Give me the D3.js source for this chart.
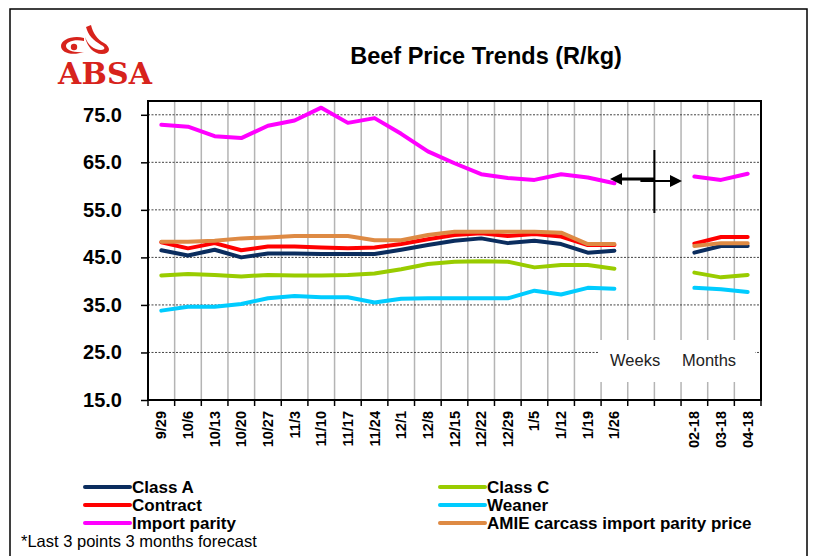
<!DOCTYPE html>
<html>
<head>
<meta charset="utf-8">
<script src="https://cdn.jsdelivr.net/npm/d3@7/dist/d3.min.js"></script>
<style>
  body { margin: 0; background: #fff; }
  svg { display: block; font-family: "Liberation Sans", Arial, sans-serif; }
</style>
</head>
<body>
<svg id="chart" width="814" height="556"></svg>
<script>
(() => {

    // categories (two blank slots split weeks from months)
    const categories = ['9/29', '10/6', '10/13', '10/20', '10/27', '11/3', '11/10', '11/17', '11/24',
        '12/1', '12/8', '12/15', '12/22', '12/29', '1/5', '1/12', '1/19', '1/26', '', ' ',
        '02-18', '03-18', '04-18'];

    // series values (R/kg), null where there is no point
    const class_a = [46.5, 45.4, 46.6, 45.0, 45.8, 45.8, 45.7, 45.7, 45.7, 46.6, 47.6, 48.5, 49.0, 48.0, 48.5, 47.8, 46.0, 46.4, null, null, 46.0, 47.4, 47.4];
    const class_c = [41.2, 41.5, 41.3, 41.0, 41.3, 41.2, 41.2, 41.3, 41.6, 42.5, 43.6, 44.1, 44.2, 44.1, 42.9, 43.4, 43.4, 42.6, null, null, 41.8, 40.8, 41.3];
    const contract = [48.2, 46.9, 48.0, 46.5, 47.3, 47.3, 47.1, 46.9, 47.1, 47.8, 48.8, 49.7, 50.1, 49.5, 49.9, 49.4, 47.6, 47.6, null, null, 47.9, 49.3, 49.3];
    const weaner = [33.8, 34.6, 34.6, 35.2, 36.4, 36.9, 36.6, 36.6, 35.5, 36.3, 36.4, 36.4, 36.4, 36.4, 38.0, 37.2, 38.6, 38.4, null, null, 38.6, 38.3, 37.7];
    const import_parity = [72.9, 72.5, 70.5, 70.1, 72.7, 73.8, 76.5, 73.3, 74.3, 71.0, 67.3, 64.8, 62.5, 61.7, 61.3, 62.5, 61.8, 60.6, null, null, 62.0, 61.3, 62.6];
    const amie = [48.3, 48.3, 48.5, 49.0, 49.2, 49.5, 49.5, 49.5, 48.6, 48.6, 49.7, 50.4, 50.4, 50.4, 50.4, 50.2, 47.8, 47.8, null, null, 47.4, 48.0, 48.0];

    const y_ticks = [15, 25, 35, 45, 55, 65, 75];

    const series = [
        { name: 'Class A', values: class_a, color: '#0B2D5E' },
        { name: 'Class C', values: class_c, color: '#99CC00' },
        { name: 'Contract', values: contract, color: '#FF0000' },
        { name: 'Weaner', values: weaner, color: '#00CCFF' },
        { name: 'Import parity', values: import_parity, color: '#FF00FF' },
        { name: 'AMIE carcass import parity price', values: amie, color: '#DE8A44' }
    ];

    // plot area
    const left = 148, right = 761, top = 101, bottom = 400;

    let svg = d3.select('#chart');

    // outer frame
    svg.append('rect')
        .attr('x', 10).attr('y', 9)
        .attr('width', 797).attr('height', 600)
        .attr('fill', 'none')
        .attr('stroke', '#000')
        .attr('stroke-width', 1.5);

    let x_scale = d3.scaleBand()
        .domain(categories)
        .range([left, right])
        .padding(0);

    let y_scale = d3.scaleLinear()
        .domain([15, 77.9])
        .range([bottom, top]);

    // vertical grid at category boundaries
    svg.append('g')
        .selectAll('line')
        .data(categories.slice(1))
        .enter()
        .append('line')
        .attr('x1', (d) => x_scale(d))
        .attr('x2', (d) => x_scale(d))
        .attr('y1', top)
        .attr('y2', bottom)
        .attr('stroke', '#B4B4B4')
        .attr('stroke-width', 1.5);

    // horizontal dotted grid
    svg.append('g')
        .selectAll('line')
        .data(y_ticks.slice(1))
        .enter()
        .append('line')
        .attr('x1', left)
        .attr('x2', right)
        .attr('y1', (d) => y_scale(d))
        .attr('y2', (d) => y_scale(d))
        .attr('stroke', '#444')
        .attr('stroke-width', 1)
        .attr('stroke-dasharray', '2,1.5');

    // "Weeks / Months" label box
    const box_x = x_scale('1/26') - 3;
    svg.append('rect')
        .attr('x', box_x).attr('y', 340)
        .attr('width', right - 6 - box_x).attr('height', 42)
        .attr('fill', '#fff');
    svg.append('text')
        .attr('x', 610).attr('y', 366)
        .text('Weeks')
        .style('font-size', '16.5px')
        .style('fill', '#222');
    svg.append('text')
        .attr('x', 682).attr('y', 366)
        .text('Months')
        .style('font-size', '16.5px')
        .style('fill', '#222');

    // y axis
    let y_axis = d3.axisLeft(y_scale)
        .tickValues(y_ticks)
        .tickSize(7)
        .tickPadding(19)
        .tickFormat(d3.format('.1f'));
    let gy = svg.append('g')
        .attr('transform', `translate(${left}, 0)`)
        .call(y_axis);
    gy.select('.domain').remove();
    gy.selectAll('line').attr('stroke', '#000').attr('stroke-width', 1.5);
    gy.selectAll('text')
        .style('font-size', '20px')
        .style('font-weight', 'bold')
        .style('font-family', '"Liberation Sans", Arial, sans-serif')
        .attr('fill', '#000');

    // x axis ticks at boundaries
    svg.append('g')
        .selectAll('line')
        .data(categories.concat(['end']))
        .enter()
        .append('line')
        .attr('x1', (d, i) => i < categories.length ? x_scale(d) : right)
        .attr('x2', (d, i) => i < categories.length ? x_scale(d) : right)
        .attr('y1', bottom)
        .attr('y2', bottom + 6)
        .attr('stroke', '#000')
        .attr('stroke-width', 1.5);

    // x labels, rotated
    svg.append('g')
        .selectAll('text')
        .data(categories)
        .enter()
        .append('text')
        .attr('transform', (d) => `translate(${x_scale(d) + x_scale.bandwidth() / 2 + 5}, ${bottom + 11}) rotate(-90)`)
        .style('text-anchor', 'end')
        .style('font-size', '14.5px')
        .style('font-weight', 'bold')
        .text((d) => d.trim());

    // plot frame
    svg.append('rect')
        .attr('x', left).attr('y', top)
        .attr('width', right - left).attr('height', bottom - top)
        .attr('fill', 'none')
        .attr('stroke', '#000')
        .attr('stroke-width', 2);

    // lines
    let line = d3.line()
        .defined((d) => d != null)
        .x((d, i) => x_scale(categories[i]) + x_scale.bandwidth() / 2)
        .y((d) => y_scale(d));

    svg.append('g')
        .selectAll('path')
        .data(series)
        .enter()
        .append('path')
        .attr('fill', 'none')
        .attr('stroke', (d) => d.color)
        .attr('stroke-width', 4)
        .attr('stroke-linejoin', 'round')
        .attr('stroke-linecap', 'round')
        .attr('d', (d) => line(d.values));

    // weeks | months arrows
    const split_x = x_scale(' ');
    const arrow_y = 180;
    svg.append('line')
        .attr('x1', split_x).attr('x2', split_x)
        .attr('y1', 150).attr('y2', 213)
        .attr('stroke', '#000').attr('stroke-width', 2);
    svg.append('line')
        .attr('x1', 620).attr('x2', split_x)
        .attr('y1', arrow_y - 1).attr('y2', arrow_y - 1)
        .attr('stroke', '#000').attr('stroke-width', 3);
    svg.append('line')
        .attr('x1', split_x - 14).attr('x2', 672)
        .attr('y1', arrow_y + 1).attr('y2', arrow_y + 1)
        .attr('stroke', '#000').attr('stroke-width', 2);
    svg.append('path')
        .attr('d', `M610,${arrow_y - 1}L622,${arrow_y - 7}L622,${arrow_y + 5}Z`)
        .attr('fill', '#000');
    svg.append('path')
        .attr('d', `M682,${arrow_y + 1}L670,${arrow_y - 5}L670,${arrow_y + 7}Z`)
        .attr('fill', '#000');

    // title
    svg.append('text')
        .attr('x', 486).attr('y', 64)
        .style('text-anchor', 'middle')
        .style('font-size', '23.5px')
        .style('font-weight', 'bold')
        .text('Beef Price Trends (R/kg)');

    // logo
    let logo = svg.append('g').attr('fill', '#D7231C');
    logo.append('text')
        .attr('x', 58).attr('y', 84)
        .style('font-size', '30px')
        .style('font-weight', 'bold')
        .style('font-family', '"DejaVu Serif", serif')
        .attr('textLength', 94)
        .text('ABSA');
    logo.append('path')
        .attr('d', 'M84,38 C72,35 61,40 61,46 C61,53 72,56 84,52 C74,53 66,50 66,46 C66,42 74,39 84,41 Z');
    logo.append('circle').attr('cx', 74).attr('cy', 47).attr('r', 3.2);
    logo.append('path')
        .attr('d', 'M86,27 L91,25 C93,33 97,39 104,43 C111,47 111,54 102,54 C93,54 87,46 85,37 C88,45 94,50 101,50 C105,50 106,47 101,45 C93,40 88,35 86,27 Z');

    // legend
    const legend_x = [85, 440];
    const legend_y = [487, 505, 523];
    let legend = svg.append('g')
        .selectAll('g')
        .data(series)
        .enter()
        .append('g')
        .attr('transform', (d, i) => `translate(${legend_x[i % 2]}, ${legend_y[Math.floor(i / 2)]})`);
    legend.append('line')
        .attr('x1', 0).attr('x2', 45)
        .attr('stroke', (d) => d.color)
        .attr('stroke-width', 4)
        .attr('stroke-linecap', 'round');
    legend.append('text')
        .attr('x', 47).attr('y', 6)
        .style('font-size', '17px')
        .style('font-weight', 'bold')
        .text((d) => d.name);

    // footnote
    svg.append('text')
        .attr('x', 21).attr('y', 547)
        .style('font-size', '16.5px')
        .text('*Last 3 points 3 months  forecast');

})();
</script>
</body>
</html>
